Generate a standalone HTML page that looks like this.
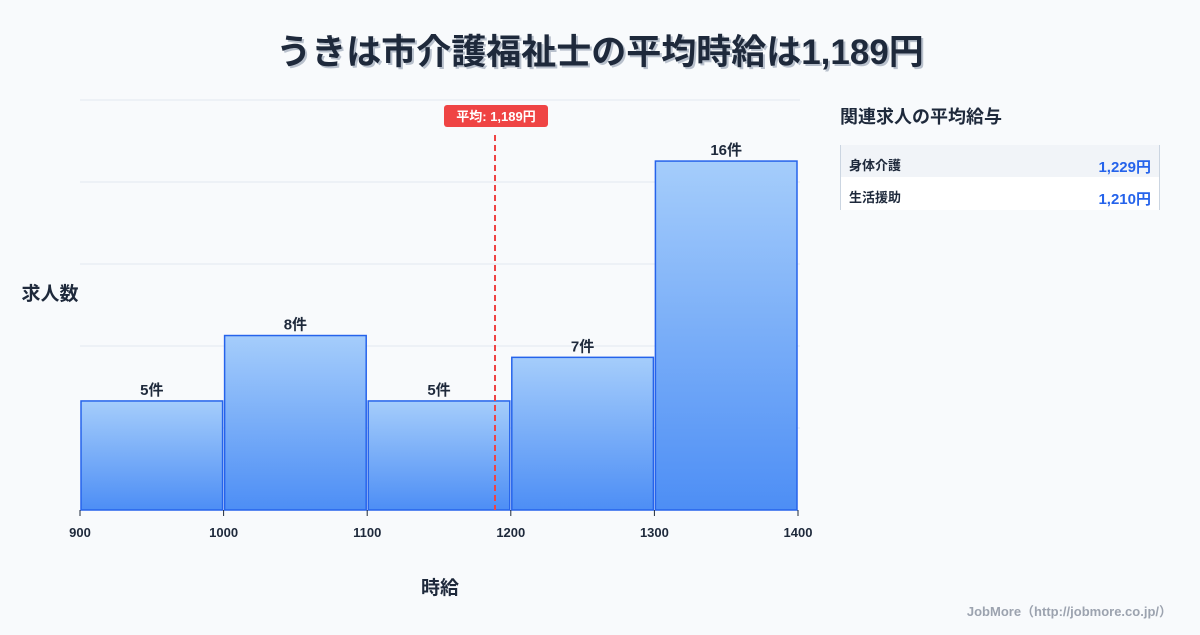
<!DOCTYPE html>
<html><head><meta charset="utf-8"><style>
body{margin:0;width:1200px;height:630px;background:#f8fafc;font-family:"Liberation Sans","Noto Sans CJK JP",sans-serif;overflow:hidden}
svg text{font-family:"Liberation Sans","Noto Sans CJK JP",sans-serif}
</style></head><body>
<svg width="1200" height="630">
<defs><linearGradient id="g" x1="0" y1="0" x2="0" y2="1"><stop offset="0" stop-color="#a5cdfb"/><stop offset="1" stop-color="#4d8ef5"/></linearGradient></defs>
<text x="602" y="66" text-anchor="middle" font-size="35" font-weight="bold" fill="#b8c0cc">うきは市介護福祉士の平均時給は1,189円</text>
<text x="600" y="64" text-anchor="middle" font-size="35" font-weight="bold" fill="#1e293b">うきは市介護福祉士の平均時給は1,189円</text>
<g id="grid"></g>
<g id="bars"></g>
<g id="xt"></g>
<text x="50" y="300" text-anchor="middle" font-size="19" font-weight="bold" fill="#1e293b">求人数</text>
<text x="440" y="594" text-anchor="middle" font-size="19" font-weight="bold" fill="#1e293b">時給</text>
<g id="mean"></g>
<text x="840" y="123" font-size="18" font-weight="bold" fill="#1e293b">関連求人の平均給与</text>
<rect x="840" y="145" width="320" height="32" fill="#f1f4f8"/>
<rect x="840" y="177" width="320" height="33" fill="#ffffff"/>
<line x1="840.5" y1="145" x2="840.5" y2="210" stroke="#cbd5e1"/>
<line x1="1159.5" y1="145" x2="1159.5" y2="210" stroke="#cbd5e1"/>
<text x="849" y="170" font-size="13" font-weight="bold" fill="#1e293b">身体介護</text>
<text x="1151" y="172" text-anchor="end" font-size="15" font-weight="bold" fill="#2563eb">1,229円</text>
<text x="849" y="202" font-size="13" font-weight="bold" fill="#1e293b">生活援助</text>
<text x="1151" y="204" text-anchor="end" font-size="15" font-weight="bold" fill="#2563eb">1,210円</text>
<text x="1172" y="616" text-anchor="end" font-size="13" font-weight="bold" fill="#9ca3af">JobMore（http://jobmore.co.jp/）</text>
</svg>
<script>
const binStarts=[900,1000,1100,1200,1300];
const binWidth=100;
const counts=[5,8,5,7,16];
const xTicks=[900,1000,1100,1200,1300,1400];
const meanValue=1189;
const meanLabel="平均: 1,189円";
const NS="http://www.w3.org/2000/svg";
const X0=80,X1=798,Y0=510,YT=100;
const xmin=900,xmax=1400;
const ymax=Math.max(...counts)*1.175;
const sx=v=>X0+(v-xmin)/(xmax-xmin)*(X1-X0);
const sy=v=>Y0-v/ymax*(Y0-YT);
function mk(t,a,p){const e=document.createElementNS(NS,t);for(const k in a)e.setAttribute(k,a[k]);p.appendChild(e);return e;}
const grid=document.getElementById('grid');
for(let i=1;i<=5;i++){const y=Y0-i*(Y0-YT)/5;
const l=mk('line',{x1:X0,x2:800,y1:y,y2:y,stroke:'#e2e8f0'},grid);

}
const bars=document.getElementById('bars');
binStarts.forEach((b,i)=>{
const x=sx(b)+1,w=sx(b+binWidth)-sx(b)-2,y=sy(counts[i]);
const r=mk('rect',{x:x,y:y,width:w,height:Y0-y,fill:'url(#g)',stroke:'#2563eb','stroke-width':1.5},bars);


const t=mk('text',{x:x+w/2,y:y-6,'text-anchor':'middle','font-size':15,'font-weight':'bold',fill:'#1e293b'},bars);
t.textContent=counts[i]+'件';


});
const xt=document.getElementById('xt');
xTicks.forEach(v=>{
const l=mk('line',{x1:sx(v),x2:sx(v),y1:Y0,y2:Y0+6,stroke:'#1e293b'},xt);


const t=mk('text',{x:sx(v),y:537,'text-anchor':'middle','font-size':13,'font-weight':'bold',fill:'#1e293b'},xt);
t.textContent=v;


});
const mg=document.getElementById('mean');
const mx=sx(meanValue);
const ml=mk('line',{x1:mx,x2:mx,y1:135,y2:Y0,stroke:'#ef4444','stroke-width':2,'stroke-dasharray':'6,4'},mg);


const mr=mk('rect',{x:mx-51,y:105,width:104,height:22,rx:3,fill:'#ef4444'},mg);


const mt=mk('text',{x:mx+1,y:121,'text-anchor':'middle','font-size':13,'font-weight':'bold',fill:'#fff'},mg);
mt.textContent=meanLabel;


</script>
</body></html>
